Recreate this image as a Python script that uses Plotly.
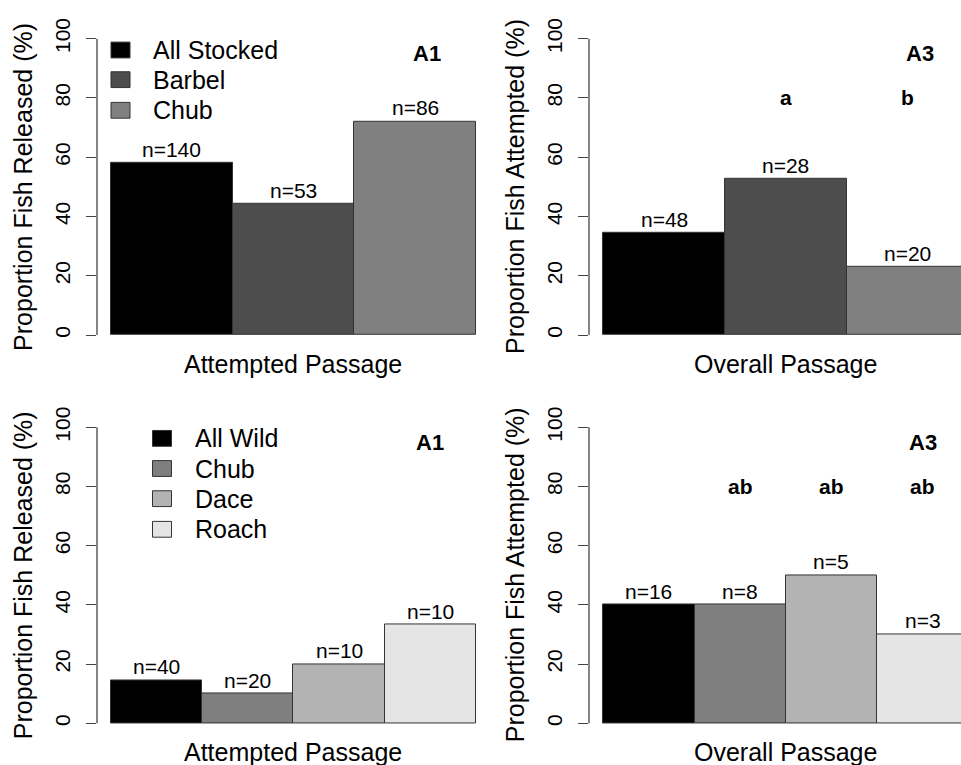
import plotly.graph_objects as go

# ---- data -------------------------------------------------------------
stocked_groups = ["All Stocked", "Barbel", "Chub"]
stocked_colors = ["#000000", "#4d4d4d", "#808080"]
stocked_released_pct = [58.1, 44.2, 72.1]
stocked_released_n = [140, 53, 86]
stocked_attempted_pct = [34.4, 52.8, 23.1]
stocked_attempted_n = [48, 28, 20]
stocked_letters = ["", "a", "b"]

wild_groups = ["All Wild", "Chub", "Dace", "Roach"]
wild_colors = ["#000000", "#7f7f7f", "#b3b3b3", "#e5e5e5"]
wild_released_pct = [14.5, 10.0, 20.0, 33.3]
wild_released_n = [40, 20, 10, 10]
wild_attempted_pct = [40.0, 40.0, 50.0, 30.0]
wild_attempted_n = [16, 8, 5, 3]
wild_letters = ["", "ab", "ab", "ab"]

y_ticks = [0, 20, 40, 60, 80, 100]
panel_tags = ["A1", "A3", "A1", "A3"]
x_titles = ["Attempted Passage", "Overall Passage", "Attempted Passage", "Overall Passage"]
y_titles = ["Proportion Fish Released (%)", "Proportion Fish Attempted (%)",
            "Proportion Fish Released (%)", "Proportion Fish Attempted (%)"]

# ---- layout geometry ----------------------------------------------------
W, H = 961, 765
FONT = "Liberation Sans, Arial, sans-serif"
AXIS_COLOR = "#444444"
EDGE = "#333333"


def px_x(p):
    return p / W


def px_y(p):
    return 1 - p / H


panels = [
    dict(vals=stocked_released_pct, n=stocked_released_n, colors=stocked_colors,
         letters=None, xd=(97, 480), yd=(18, 342), xr=(0.385, 3.532), tag_x=3.1),
    dict(vals=stocked_attempted_pct, n=stocked_attempted_n, colors=stocked_colors,
         letters=stocked_letters, xd=(589, 961), yd=(18, 342), xr=(0.382, 3.439), tag_x=3.1),
    dict(vals=wild_released_pct, n=wild_released_n, colors=wild_colors,
         letters=None, xd=(97, 480), yd=(411.3, 734.7), xr=(0.346, 4.546), tag_x=4.0),
    dict(vals=wild_attempted_pct, n=wild_attempted_n, colors=wild_colors,
         letters=wild_letters, xd=(589, 961), yd=(411.3, 734.7), xr=(0.343, 4.42), tag_x=4.0),
]

fig = go.Figure()
annotations = []
shapes = []

for i, p in enumerate(panels):
    k = "" if i == 0 else str(i + 1)
    xa, ya = "x" + k, "y" + k
    positions = list(range(1, len(p["vals"]) + 1))

    fig.add_trace(go.Bar(
        x=positions, y=p["vals"], width=1.0,
        marker=dict(color=p["colors"], line=dict(color=EDGE, width=1)),
        xaxis=xa, yaxis=ya, showlegend=False, hoverinfo="skip",
    ))

    fig.layout["xaxis" + k] = dict(
        domain=[px_x(p["xd"][0]), px_x(p["xd"][1])], range=list(p["xr"]),
        anchor=ya, showgrid=False, zeroline=False, showline=False,
        showticklabels=False, ticks="", fixedrange=True,
    )
    fig.layout["yaxis" + k] = dict(
        domain=[px_y(p["yd"][1]), px_y(p["yd"][0])], range=[-4, 104],
        anchor=xa, showgrid=False, zeroline=False, showline=False,
        tickvals=y_ticks, ticks="outside", ticklen=10, tickwidth=1.3,
        tickcolor=AXIS_COLOR, tickangle=-90, ticklabelstandoff=8,
        tickfont=dict(family=FONT, size=21, color="black"),
        fixedrange=True,
    )

    # R-style axis line spanning only the tick range
    shapes.append(dict(type="line", xref=xa + " domain", yref=ya,
                       x0=0, x1=0, y0=y_ticks[0], y1=y_ticks[-1],
                       line=dict(color=AXIS_COLOR, width=1.3)))

    # sample size labels above each bar
    for x, v, n in zip(positions, p["vals"], p["n"]):
        annotations.append(dict(x=x, y=v, xref=xa, yref=ya, text=f"n={n}",
                                showarrow=False, yanchor="bottom", yshift=0,
                                font=dict(family=FONT, size=21, color="black")))

    # significance letters
    if p["letters"]:
        for x, lt in zip(positions, p["letters"]):
            if lt:
                annotations.append(dict(x=x, y=80, xref=xa, yref=ya, text=f"<b>{lt}</b>",
                                        showarrow=False, yanchor="middle",
                                        font=dict(family=FONT, size=21, color="black")))

    # panel tag
    annotations.append(dict(x=p["tag_x"], y=95, xref=xa, yref=ya, text=f"<b>{panel_tags[i]}</b>",
                            showarrow=False, yanchor="middle",
                            font=dict(family=FONT, size=22, color="black")))

    # axis titles
    y0_px = p["yd"][1] - 4 * (p["yd"][1] - p["yd"][0]) / 108
    y100_px = p["yd"][0] + 4 * (p["yd"][1] - p["yd"][0]) / 108
    annotations.append(dict(x=px_x(p["xd"][0] - 74), y=px_y((y0_px + y100_px) / 2),
                            xref="paper", yref="paper", text=y_titles[i], textangle=-90,
                            showarrow=False, xanchor="center", yanchor="middle",
                            font=dict(family=FONT, size=25, color="black")))
    bar_left = p["xd"][0] + (0.5 - p["xr"][0]) / (p["xr"][1] - p["xr"][0]) * (p["xd"][1] - p["xd"][0])
    annotations.append(dict(x=px_x(bar_left + 182), y=px_y(y0_px + 29),
                            xref="paper", yref="paper", text=x_titles[i],
                            showarrow=False, xanchor="center", yanchor="middle",
                            font=dict(family=FONT, size=25, color="black")))


# ---- legends (drawn boxes + labels) ------------------------------------
def draw_legend(groups, colors, box_left, text_left, row_centers):
    for g, c, yc in zip(groups, colors, row_centers):
        shapes.append(dict(type="rect", xref="paper", yref="paper",
                           x0=px_x(box_left), x1=px_x(box_left + 19),
                           y0=px_y(yc + 8), y1=px_y(yc - 8),
                           fillcolor=c, line=dict(color=EDGE, width=1)))
        annotations.append(dict(x=px_x(text_left), y=px_y(yc), xref="paper", yref="paper",
                                text=g, showarrow=False, xanchor="left", yanchor="middle",
                                font=dict(family=FONT, size=25, color="black")))


draw_legend(stocked_groups, stocked_colors, 111, 151, [41.5, 71.5, 102.5])
draw_legend(wild_groups, wild_colors, 152.5, 193, [434.5, 465, 495.5, 526.5])

fig.update_layout(
    width=W, height=H, autosize=False,
    margin=dict(l=0, r=0, t=0, b=0),
    paper_bgcolor="white", plot_bgcolor="white",
    bargap=0, showlegend=False,
    annotations=annotations, shapes=shapes,
)

fig.write_html("out.html")
